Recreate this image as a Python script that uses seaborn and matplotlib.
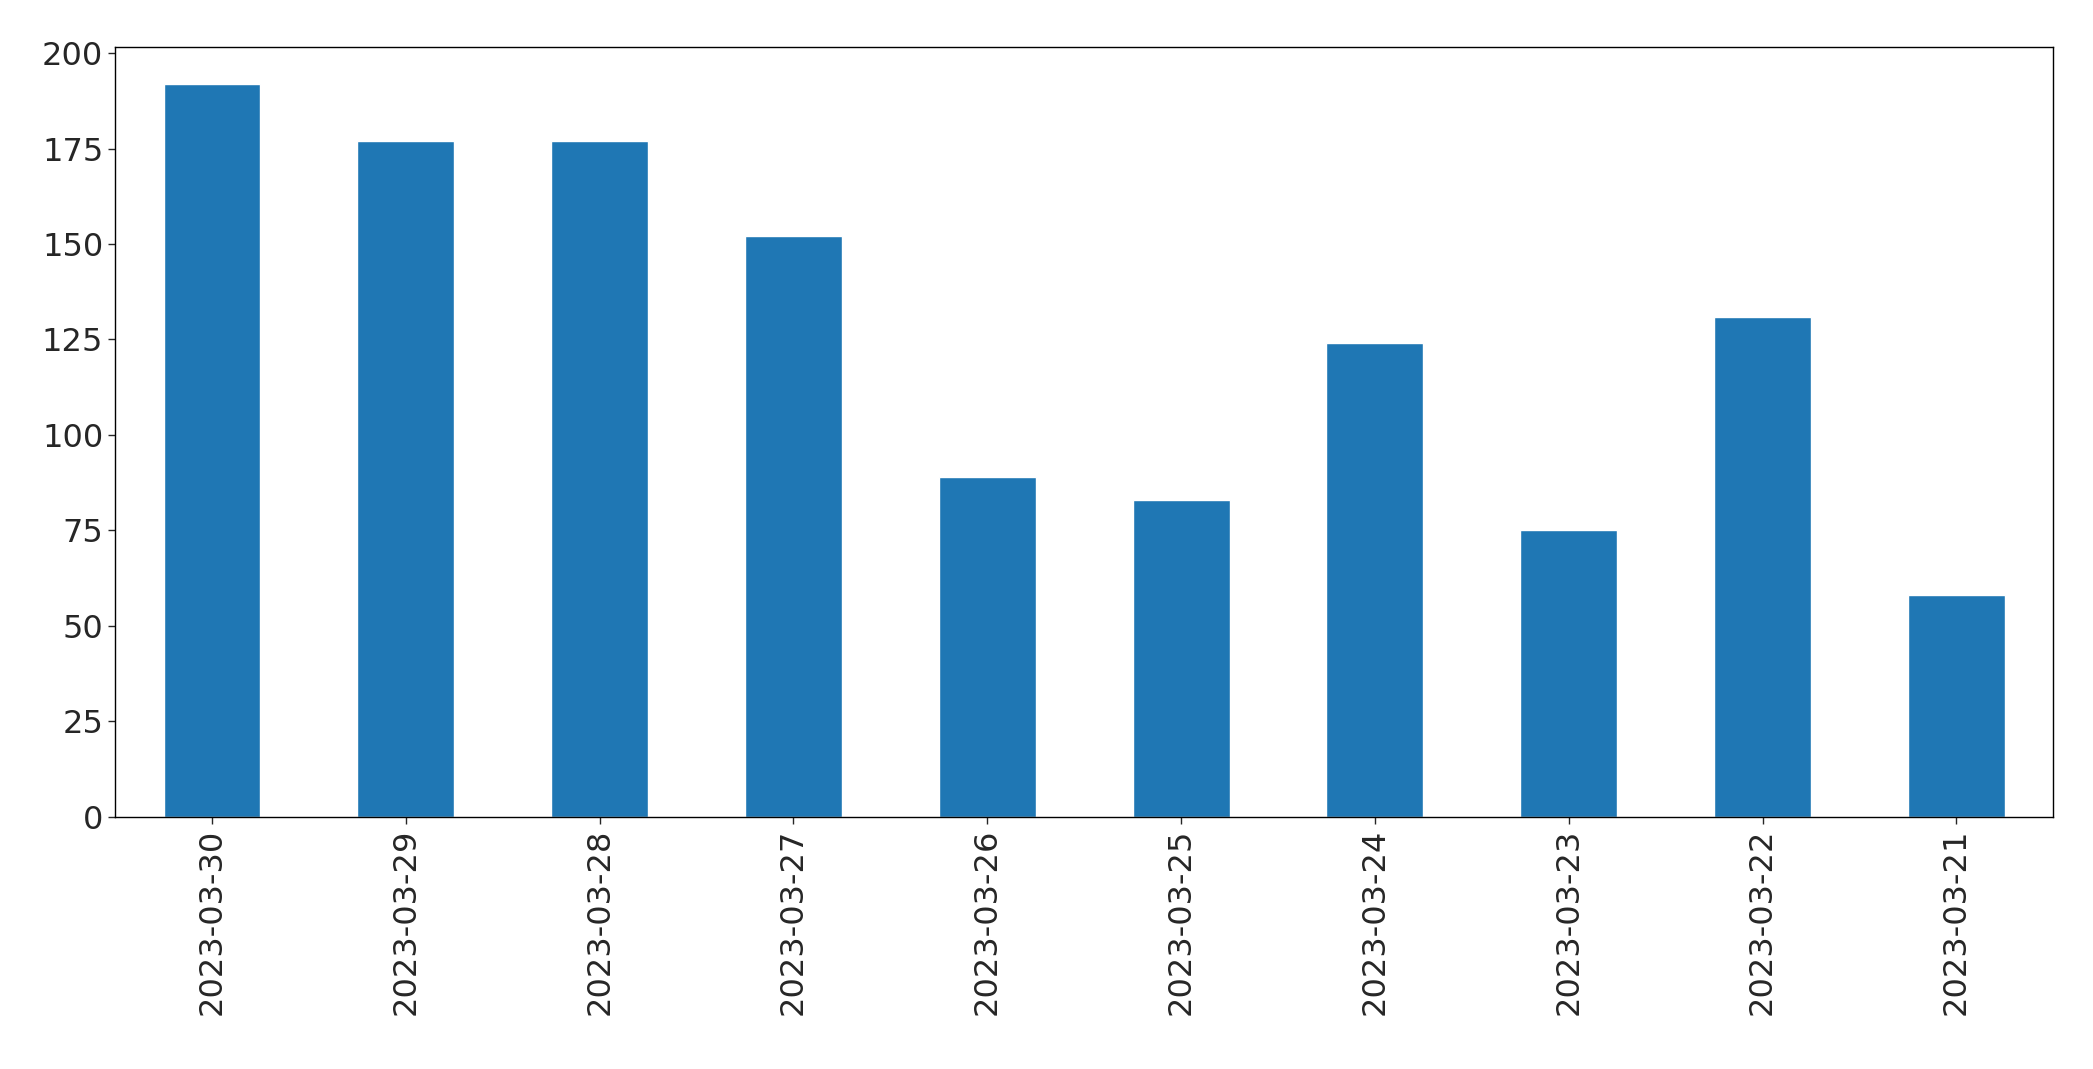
import matplotlib
matplotlib.use("Agg")
import matplotlib.pyplot as plt
import seaborn as sns
import pandas as pd

dates = ["2023-03-30","2023-03-29","2023-03-28","2023-03-27","2023-03-26",
         "2023-03-25","2023-03-24","2023-03-23","2023-03-22","2023-03-21"]
counts = [192, 177, 177, 152, 89, 83, 124, 75, 131, 58]

sns.set_style("white")
plt.rcParams['font.family'] = ['DejaVu Sans']
df = pd.DataFrame({"date": dates, "count": counts})

fig = plt.figure(figsize=(20.93, 10.69), dpi=100)
ax = fig.add_axes([0.055, 0.236, 0.926, 0.72])
sns.barplot(data=df, x="date", y="count", order=dates, color="#1f77b4",
            saturation=1, width=0.5, ax=ax)
ax.set_xlabel("")
ax.set_ylabel("")
ax.set_xlim(-0.5, len(dates) - 0.5)
ax.set_ylim(0, 201.6)
ax.set_yticks(range(0, 201, 25))
ax.tick_params(axis="both", labelsize=23, length=5, width=1, left=True, bottom=True)
plt.setp(ax.get_xticklabels(), rotation=90)
for s in ax.spines.values():
    s.set_color("black")
    s.set_linewidth(1)
fig.savefig("out.png", dpi=100)
